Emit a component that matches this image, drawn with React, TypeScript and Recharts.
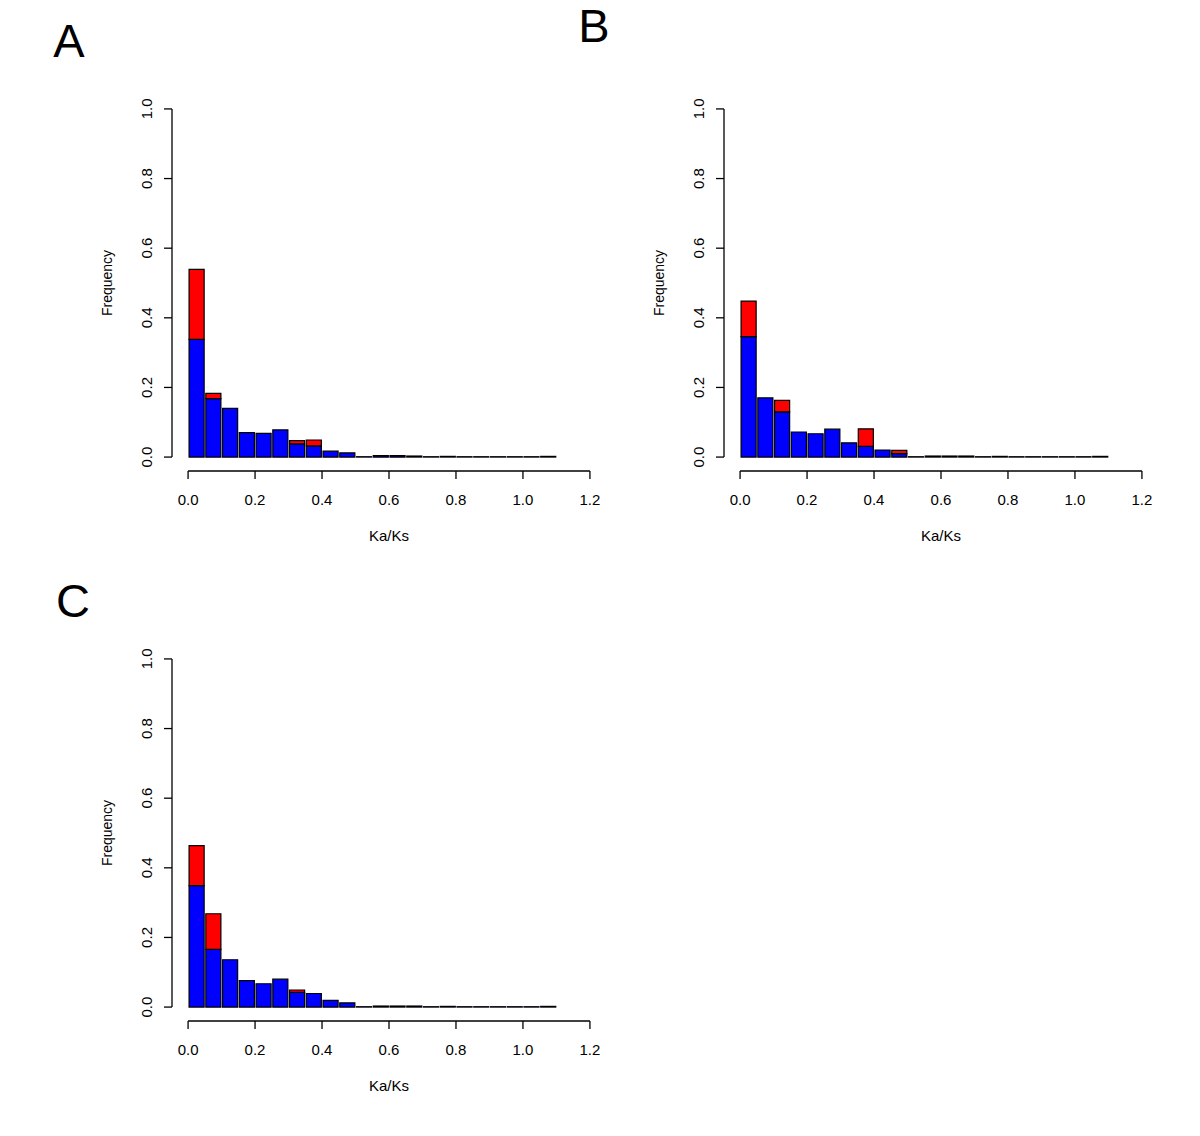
import { BarChart, Bar, XAxis, YAxis, ReferenceLine } from "recharts";

// bin centres of the Ka/Ks histogram (bin width 0.05)
const binMid = [0.025, 0.075, 0.125, 0.175, 0.225, 0.275, 0.325, 0.375, 0.425, 0.475, 0.525,
  0.575, 0.625, 0.675, 0.725, 0.775, 0.825, 0.875, 0.925, 0.975, 1.025, 1.075];

const xTicks = [0, 0.2, 0.4, 0.6, 0.8, 1.0, 1.2];
const yTicks = [0, 0.2, 0.4, 0.6, 0.8, 1.0];

// panel A
const aBlue = [0.338, 0.168, 0.140, 0.070, 0.068, 0.078, 0.038, 0.032, 0.017, 0.012, 0.001,
  0.004, 0.004, 0.003, 0.001, 0.002, 0.001, 0.001, 0.001, 0.001, 0.001, 0.002];
const aRed = [0.201, 0.015, 0, 0, 0, 0, 0.009, 0.017, 0, 0, 0,
  0, 0, 0, 0, 0, 0, 0, 0, 0, 0, 0];

// panel B
const bBlue = [0.346, 0.170, 0.130, 0.072, 0.067, 0.080, 0.041, 0.031, 0.020, 0.010, 0.001,
  0.003, 0.003, 0.003, 0.001, 0.002, 0.001, 0.001, 0.001, 0.001, 0.001, 0.002];
const bRed = [0.102, 0, 0.033, 0, 0, 0, 0, 0.050, 0, 0.009, 0,
  0, 0, 0, 0, 0, 0, 0, 0, 0, 0, 0];

// panel C
const cBlue = [0.349, 0.166, 0.136, 0.076, 0.067, 0.080, 0.042, 0.039, 0.019, 0.012, 0.001,
  0.003, 0.003, 0.003, 0.001, 0.002, 0.001, 0.001, 0.001, 0.001, 0.001, 0.002];
const cRed = [0.115, 0.102, 0, 0, 0, 0, 0.007, 0, 0, 0, 0,
  0, 0, 0, 0, 0, 0, 0, 0, 0, 0, 0];

const FONT = '"Liberation Sans", Arial, Helvetica, sans-serif';
const W = 620;
const H = 560;
const MARGIN = { top: 95, right: 14, left: 112, bottom: 9 };
const PLOT_W = W - MARGIN.left - 60 - MARGIN.right;
const X_DOMAIN: [number, number] = [-0.048, 1.248];
const Y_DOMAIN: [number, number] = [-0.04, 1.04];
const BAR_W = (PLOT_W / (X_DOMAIN[1] - X_DOMAIN[0])) * 0.05;

const YTick = (props: any) => {
  const { x, y, payload } = props;
  return (
    <text x={x} y={y} transform={`rotate(-90 ${x} ${y})`} textAnchor="middle"
      fontSize={15} fill="#000" fontFamily={FONT}>
      {Number(payload.value).toFixed(1)}
    </text>
  );
};

function Histogram({ blue, red, left, top }: { blue: number[]; red: number[]; left: number; top: number }) {
  const data = binMid.map((x, i) => ({ x, blue: blue[i], red: red[i] }));
  return (
    <div style={{ position: "absolute", left, top }}>
      <BarChart width={W} height={H} data={data} margin={MARGIN} barGap={0} barCategoryGap={0}
        style={{ fontFamily: FONT }}>
        <XAxis dataKey="x" type="number" domain={X_DOMAIN} allowDataOverflow ticks={xTicks} interval={0}
          axisLine={false} tickLine={{ stroke: "#000", strokeWidth: 1.3 }} tickSize={8} tickMargin={15}
          tick={{ fill: "#000", fontSize: 15 }} tickFormatter={(v: number) => v.toFixed(1)} height={80}
          label={{ value: "Ka/Ks", position: "insideBottom", offset: 10, fill: "#000", fontSize: 15 }} />
        <YAxis type="number" domain={Y_DOMAIN} allowDataOverflow ticks={yTicks} interval={0} width={60}
          axisLine={false} tickLine={{ stroke: "#000", strokeWidth: 1.3 }} tickSize={8} tickMargin={12}
          tick={<YTick />}
          label={{ value: "Frequency", angle: -90, position: "insideLeft", offset: -5, fill: "#000",
            fontSize: 14, style: { textAnchor: "middle" } }} />
        <ReferenceLine segment={[{ x: 0, y: -0.04 }, { x: 1.2, y: -0.04 }]} stroke="#000"
          strokeWidth={1.3} ifOverflow="visible" />
        <ReferenceLine segment={[{ x: -0.048, y: 0 }, { x: -0.048, y: 1 }]} stroke="#000"
          strokeWidth={1.3} ifOverflow="visible" />
        <Bar dataKey="blue" stackId="h" fill="#0000ff" stroke="#000" strokeWidth={1.2}
          barSize={BAR_W} isAnimationActive={false} />
        <Bar dataKey="red" stackId="h" fill="#ff0000" stroke="#000" strokeWidth={1.2}
          barSize={BAR_W} isAnimationActive={false} />
      </BarChart>
    </div>
  );
}

export default function App() {
  return (
    <div style={{ position: "absolute", left: 0, top: 0, width: 1200, height: 1136, background: "#fff",
      fontFamily: FONT }}>
      <svg width={1200} height={1136} style={{ position: "absolute", left: 0, top: 0 }}>
        <text x={69} y={57} textAnchor="middle" fontSize={47} fontFamily={FONT} fill="#000">A</text>
        <text x={594} y={42} textAnchor="middle" fontSize={47} fontFamily={FONT} fill="#000">B</text>
        <text x={73} y={617} textAnchor="middle" fontSize={47} fontFamily={FONT} fill="#000">C</text>
      </svg>
      <Histogram blue={aBlue} red={aRed} left={0} top={0} />
      <Histogram blue={bBlue} red={bRed} left={552} top={0} />
      <Histogram blue={cBlue} red={cRed} left={0} top={550} />
    </div>
  );
}
